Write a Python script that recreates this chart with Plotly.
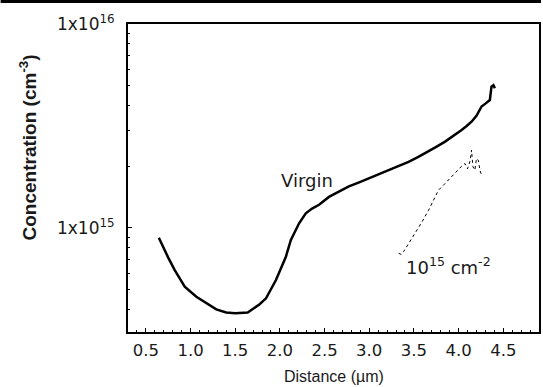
import plotly.graph_objects as go

# ---- data ----
virgin_x = [0.645, 0.70, 0.75, 0.823, 0.935, 1.065, 1.18, 1.288, 1.399, 1.50, 1.64, 1.695, 1.77,
            1.845, 1.956, 2.067, 2.123, 2.215, 2.29, 2.36, 2.438, 2.549, 2.66, 2.772, 2.88, 2.995,
            3.1, 3.218, 3.33, 3.44, 3.55, 3.663, 3.75, 3.849, 3.94, 4.034, 4.09, 4.145, 4.2,
            4.257, 4.30, 4.35, 4.368, 4.39, 4.406]
virgin_y = [8.95e14, 7.94e14, 7.16e14, 6.22e14, 5.15e14, 4.60e14, 4.27e14, 3.99e14, 3.85e14,
            3.82e14, 3.85e14, 3.99e14, 4.22e14, 4.52e14, 5.56e14, 7.23e14, 8.73e14, 1.054e15,
            1.18e15, 1.245e15, 1.30e15, 1.42e15, 1.51e15, 1.60e15, 1.67e15, 1.75e15, 1.83e15,
            1.92e15, 2.01e15, 2.11e15, 2.23e15, 2.37e15, 2.50e15, 2.65e15, 2.82e15, 3.02e15,
            3.16e15, 3.32e15, 3.55e15, 3.94e15, 4.07e15, 4.24e15, 4.93e15, 5.01e15, 4.84e15]

implant_x = [3.329, 3.36, 3.385, 3.45, 3.515, 3.59, 3.663, 3.72, 3.774, 3.83, 3.886, 3.94,
             3.997, 4.03, 4.071, 4.10, 4.13, 4.145, 4.16, 4.182, 4.20, 4.22, 4.24, 4.257]
implant_y = [7.52e14, 7.41e14, 7.66e14, 8.51e14, 9.42e14, 1.07e15, 1.22e15, 1.38e15, 1.53e15,
             1.62e15, 1.72e15, 1.82e15, 1.92e15, 2.00e15, 2.07e15, 1.95e15, 2.14e15, 2.41e15,
             2.00e15, 1.92e15, 2.19e15, 2.15e15, 1.91e15, 1.82e15]

x_tickvals = [0.5, 1.0, 1.5, 2.0, 2.5, 3.0, 3.5, 4.0, 4.5]
x_ticktext = ["0.5", "1.0", "1.5", "2.0", "2.5", "3.0", "3.5", "4.0", "4.5"]
y_tickvals = [1e15, 1e16]
y_ticktext = ["1x10<sup>15</sup>", "1x10<sup>16</sup>"]
y_minor = [4e14, 5e14, 6e14, 7e14, 8e14, 9e14, 2e15, 3e15, 4e15, 5e15, 6e15, 7e15, 8e15, 9e15]

FONT = "Liberation Sans, Arial, sans-serif"
TICKFONT = "DejaVu Sans, sans-serif"
TXT = "#1a1a1a"

fig = go.Figure()
fig.add_trace(go.Scatter(x=virgin_x, y=virgin_y, mode="lines",
                         line=dict(color="black", width=2.5), showlegend=False))
fig.add_trace(go.Scatter(x=implant_x, y=implant_y, mode="lines",
                         line=dict(color="black", width=1, dash="dot"), showlegend=False))

fig.update_layout(
    width=543, height=387,
    margin=dict(l=128, r=2, t=24, b=55),
    paper_bgcolor="white", plot_bgcolor="white",
    font=dict(family=FONT, size=14, color=TXT),
    showlegend=False,
)
fig.update_xaxes(
    range=[0.3, 4.9], showgrid=False, zeroline=False,
    showline=True, linecolor="black", linewidth=2, mirror=True,
    tickmode="array", tickvals=x_tickvals, ticktext=x_ticktext,
    ticks="inside", ticklen=4, tickwidth=1, tickcolor="black",
    minor=dict(ticks="inside", dtick=0.1, tick0=0, ticklen=2, tickwidth=1, tickcolor="black"),
    tickfont=dict(family=TICKFONT, size=16.5, color=TXT),
    ticklabelstandoff=2,
)
fig.update_yaxes(
    type="log", range=[14.49, 16.0], showgrid=False, zeroline=False,
    showline=True, linecolor="black", linewidth=2, mirror=True,
    tickmode="array", tickvals=y_tickvals, ticktext=y_ticktext,
    ticks="inside", ticklen=4, tickwidth=1, tickcolor="black",
    minor=dict(ticks="inside", tickmode="array", tickvals=y_minor, ticklen=2, tickwidth=1,
               tickcolor="black"),
    tickfont=dict(family=TICKFONT, size=17, color=TXT),
    ticklabelstandoff=8,
)

fig.add_annotation(x=2.299, y=15.235, xref="x", yref="y", text="Virgin", showarrow=False,
                   xanchor="center", yanchor="middle",
                   font=dict(family=TICKFONT, size=18, color=TXT))
fig.add_annotation(x=3.886, y=14.814, xref="x", yref="y", text="10<sup>15</sup> cm<sup>-2</sup>",
                   showarrow=False, xanchor="center", yanchor="middle",
                   font=dict(family=TICKFONT, size=18, color=TXT))
# axis titles
fig.add_annotation(x=(28 - 128) / 413, y=(332 - 147) / 308, xref="paper", yref="paper",
                   text="<b>Concentration (cm<sup>-3</sup>)</b>", textangle=-90, showarrow=False,
                   xanchor="center", yanchor="middle",
                   font=dict(family=FONT, size=19, color=TXT))
fig.add_annotation(x=(335 - 128) / 413, y=-(376 - 332) / 308, xref="paper", yref="paper",
                   text="Distance (µm)", showarrow=False, xanchor="center", yanchor="middle",
                   font=dict(family=FONT, size=16, color=TXT))
# top black bar of the image
fig.add_shape(type="rect", xref="paper", yref="paper", x0=-128 / 413, x1=(543 - 128) / 413,
              y0=1 + 21 / 308, y1=1 + 24 / 308, fillcolor="black", line_width=0)

fig.write_html("out.html")
